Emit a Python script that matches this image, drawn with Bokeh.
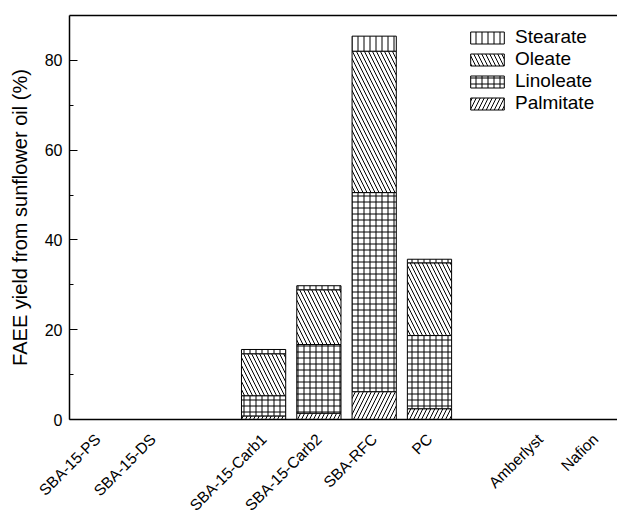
import math
from bokeh.plotting import figure
from bokeh.models import (ColumnDataSource, FixedTicker, LinearAxis, Legend,
                          LegendItem, Range1d)
from bokeh.embed import file_html
from bokeh.resources import INLINE

# ---- data ----
catalysts = ["SBA-15-PS", "SBA-15-DS", "SBA-15-Carb1", "SBA-15-Carb2",
             "SBA-RFC", "PC", "Amberlyst", "Nafion"]
palmitate = [0.0, 0.0, 0.8, 1.4, 6.2, 2.4, 0.0, 0.0]
linoleate = [0.0, 0.0, 4.5, 15.3, 44.35, 16.3, 0.0, 0.0]
oleate = [0.0, 0.0, 9.35, 12.2, 31.5, 16.2, 0.0, 0.0]
stearate = [0.0, 0.0, 0.95, 0.9, 3.35, 0.8, 0.0, 0.0]
series = ["Palmitate", "Linoleate", "Oleate", "Stearate"]
y_ticks = [0, 20, 40, 60, 80]
y_minor = [10, 30, 50, 70]

# ---- layout (category slots with gaps) ----
x_pos = [1, 2, 4, 5, 6, 7, 9, 10]

src = ColumnDataSource(dict(x=x_pos, Palmitate=palmitate, Linoleate=linoleate,
                            Oleate=oleate, Stearate=stearate))

FONT = "Liberation Sans"

p = figure(width=617, height=522, output_backend="svg", toolbar_location=None,
           x_range=Range1d(0.49, 10.4), y_range=Range1d(0, 90),
           min_border_left=69, min_border_right=0, min_border_top=15,
           min_border_bottom=101)
p.outline_line_color = None
p.grid.visible = False
p.background_fill_color = "white"
p.border_fill_color = "white"

hatches = {"Palmitate": ("/", 8), "Linoleate": ("+", 6),
           "Oleate": ("\\", 8), "Stearate": ("|", 6)}

rs = p.vbar_stack(series, x="x", width=0.8, source=src, fill_color="white",
                  line_color="black", line_width=1,
                  hatch_pattern=[hatches[s][0] for s in series],
                  hatch_scale=[hatches[s][1] for s in series],
                  hatch_color="black", hatch_weight=1)

# axes
xa = p.xaxis[0]
xa.ticker = FixedTicker(ticks=x_pos)
xa.major_label_overrides = {x: c for x, c in zip(x_pos, catalysts)}
xa.major_label_orientation = math.pi / 4
xa.major_tick_line_color = None
xa.minor_tick_line_color = None
xa.major_label_text_font = FONT
xa.major_label_text_font_size = "15.5px"
xa.major_label_text_color = "black"
xa.major_label_standoff = 11
xa.axis_line_width = 1.5
xa.axis_line_color = "black"

ya = p.yaxis[0]
ya.ticker = FixedTicker(ticks=y_ticks, minor_ticks=y_minor)
ya.major_tick_in = 8
ya.major_tick_out = 0
ya.minor_tick_in = 4
ya.minor_tick_out = 0
ya.major_tick_line_color = "black"
ya.minor_tick_line_color = "black"
ya.major_label_text_font = FONT
ya.major_label_text_font_size = "16px"
ya.major_label_text_color = "black"
ya.major_label_standoff = 7
ya.axis_line_width = 1.5
ya.axis_line_color = "black"
ya.axis_label = "FAEE yield from sunflower oil (%)"
ya.axis_label_text_font = FONT
ya.axis_label_text_font_size = "20px"
ya.axis_label_text_font_style = "normal"
ya.axis_label_text_color = "black"
ya.axis_label_standoff = 11

top = LinearAxis(ticker=FixedTicker(ticks=[]), major_label_text_font_size="0px",
                 major_tick_line_color=None, minor_tick_line_color=None,
                 axis_line_width=1.5, axis_line_color="black")
p.add_layout(top, "above")

items = [LegendItem(label=s, renderers=[r]) for s, r in zip(series, rs)][::-1]
legend = Legend(items=items, location=(397, 305), padding=0, margin=0,
                border_line_color=None, background_fill_alpha=0,
                glyph_width=42, glyph_height=15, label_height=15,
                spacing=0, label_standoff=7,
                label_text_font=FONT, label_text_font_size="19px",
                label_text_color="black")
p.add_layout(legend)

open("out.html", "w").write(file_html(p, INLINE))
